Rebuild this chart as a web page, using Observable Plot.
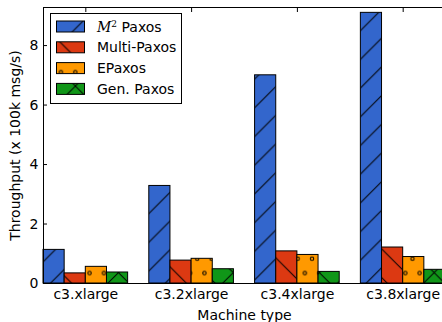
<!DOCTYPE html>
<html><head><meta charset="utf-8">
<script src="https://cdn.jsdelivr.net/npm/d3@7"></script>
<script src="https://cdn.jsdelivr.net/npm/@observablehq/plot@0.6"></script>
<style>html,body{margin:0;padding:0;background:#fff;overflow:hidden}</style>
</head><body><div id="chart"></div>
<script>
const categories = ["c3.xlarge", "c3.2xlarge", "c3.4xlarge", "c3.8xlarge"];
const seriesNames = ["M2 Paxos", "Multi-Paxos", "EPaxos", "Gen. Paxos"];
const m2Paxos    = [1.13, 3.28, 7.00, 9.10];
const multiPaxos = [0.34, 0.77, 1.08, 1.21];
const ePaxos     = [0.56, 0.83, 0.96, 0.89];
const genPaxos   = [0.37, 0.48, 0.39, 0.46];
const yTicks = [0, 2, 4, 6, 8];
const colors = ["#3366cc", "#dc3912", "#ff9900", "#109618"];
const hatches = ["/", "\\", "o", "x"];

const seriesValues = [m2Paxos, multiPaxos, ePaxos, genPaxos];
const slots = seriesNames.length + 1; // one empty slot between groups
const rows = categories.flatMap((c, g) => seriesValues.map((vals, i) => ({
  category: c, series: i, value: vals[g], x1: g * slots + i, x2: g * slots + i + 1
})));
const catTicks = categories.map((c, g) => g * slots + seriesNames.length / 2);
const fmtCat = v => categories[Math.round((v - seriesNames.length / 2) / slots)];

const font = "DejaVu Sans";
const svgEl = Plot.plot({
  width: 442, height: 322,
  marginLeft: 43, marginRight: -3, marginTop: 7, marginBottom: 39,
  style: {fontFamily: font, fontSize: "14px", color: "black", background: "white"},
  x: {domain: [0, categories.length * slots - 1]},
  y: {domain: [0, 9.28]},
  marks: [
    ...seriesNames.map((s, i) => Plot.rectY(rows.filter(d => d.series === i), {
      x1: "x1", x2: "x2", y: "value", fill: `url(#hatch${i})`, stroke: "black", strokeWidth: 1
    })),
    Plot.frame({stroke: "black", strokeWidth: 1}),
    Plot.axisY(yTicks, {anchor: "left", tickSize: -4, tickPadding: 9, fontSize: 14,
      label: "Throughput (x 100k msg/s)", labelAnchor: "center", labelOffset: 33, labelArrow: "none"}),
    Plot.axisY(yTicks, {anchor: "right", tickSize: -4, tickFormat: () => "", label: null}),
    Plot.axisX(catTicks, {anchor: "bottom", tickSize: 0, tickPadding: 6, tickFormat: fmtCat, fontSize: 14,
      label: "Machine type", labelAnchor: "center", labelOffset: 36, labelArrow: "none"}),
    Plot.axisX(catTicks, {anchor: "top", tickSize: -4, tickFormat: () => "", label: null})
  ]
});
document.getElementById("chart").appendChild(svgEl);

// hatch patterns
const S = 28.7;
const svg = d3.select(svgEl);
const defs = svg.insert("defs", ":first-child");
const fwd = `M${-S/2},${S/2}L${S/2},${-S/2}M0,${S}L${S},0M${S/2},${S*1.5}L${S*1.5},${S/2}`;
const back = `M${-S/2},${S/2}L${S/2},${S*1.5}M0,0L${S},${S}M${S/2},${-S/2}L${S*1.5},${S/2}`;
hatches.forEach((h, i) => {
  const w = h === "o" ? S / 2 : S;
  const p = defs.append("pattern").attr("id", `hatch${i}`).attr("patternUnits", "userSpaceOnUse")
    .attr("width", w).attr("height", S).attr("x", h === "o" ? 10.7 : 18).attr("y", h === "o" ? 0.4 : 0);
  p.append("rect").attr("width", w).attr("height", S).attr("fill", colors[i]);
  if (h === "/" || h === "x") p.append("path").attr("d", fwd).attr("stroke", "black").attr("stroke-width", 1).attr("fill", "none");
  if (h === "\\" || h === "x") p.append("path").attr("d", back).attr("stroke", "black").attr("stroke-width", 1).attr("fill", "none");
  if (h === "o") {
    [[0,0],[w,0],[0,S],[w,S],[w/2,S/2]].forEach(([cx, cy]) =>
      p.append("circle").attr("cx", cx).attr("cy", cy).attr("r", 1.7)
        .attr("fill", "none").attr("stroke", "black").attr("stroke-width", 1));
  }
});

// legend
const lg = svg.append("g").attr("font-family", font).attr("font-size", 14).attr("text-anchor", "start");
lg.append("rect").attr("x", 50.5).attr("y", 13.5).attr("width", 131).attr("height", 90)
  .attr("fill", "white").attr("stroke", "black").attr("stroke-width", 1);
seriesNames.forEach((s, i) => {
  const cy = 26.5 + i * 20.8;
  lg.append("rect").attr("x", 56.5).attr("y", cy - 5.5).attr("width", 28).attr("height", 11)
    .attr("fill", `url(#hatch${i})`).attr("stroke", "black").attr("stroke-width", 1);
  const t = lg.append("text").attr("x", 97).attr("y", cy + 5).attr("fill", "black");
  if (s.startsWith("M2")) {
    t.append("tspan").attr("font-family", "DejaVu Serif").attr("font-style", "italic").text("M");
    t.append("tspan").attr("font-family", "DejaVu Serif").attr("font-size", 9).attr("dy", -5).text("2");
    t.append("tspan").attr("dy", 5).text(" Paxos");
  } else {
    t.text(s);
  }
});
</script>
</body></html>
